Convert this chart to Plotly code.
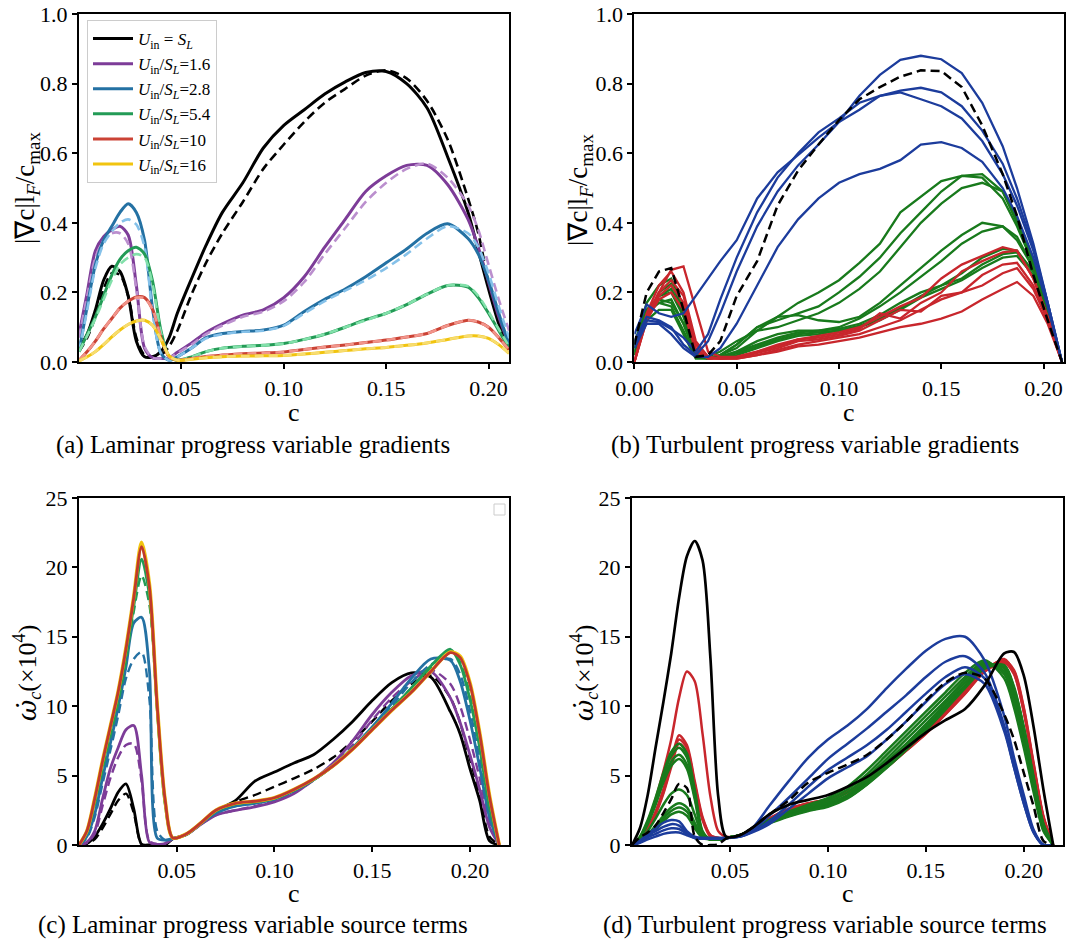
import plotly.graph_objects as go

FONT = "Liberation Serif"

# ---------------- (a) laminar progress-variable gradients ----------------
C_LAM = [0, 0.004, 0.008, 0.012, 0.016, 0.020, 0.024, 0.028, 0.032, 0.036, 0.040,
         0.044, 0.048, 0.055, 0.062, 0.070, 0.080, 0.090, 0.100, 0.110, 0.120,
         0.130, 0.140, 0.150, 0.160, 0.170, 0.180, 0.190, 0.195, 0.200, 0.205, 0.210]

GRAD_SL = [0.04, 0.08, 0.15, 0.235, 0.275, 0.26, 0.19, 0.06, 0.015, 0.015, 0.03,
           0.07, 0.14, 0.24, 0.335, 0.43, 0.515, 0.615, 0.68, 0.725, 0.77,
           0.805, 0.832, 0.835, 0.80, 0.73, 0.59, 0.43, 0.32, 0.21, 0.11, 0.035]
GRAD_SL_REF = [0.03, 0.07, 0.13, 0.21, 0.255, 0.25, 0.19, 0.07, 0.02, 0.015, 0.02,
               0.045, 0.09, 0.195, 0.285, 0.37, 0.46, 0.555, 0.625, 0.69, 0.745,
               0.785, 0.823, 0.838, 0.815, 0.75, 0.64, 0.47, 0.37, 0.23, 0.12, 0.05]
GRAD_16 = [0.08, 0.2, 0.32, 0.36, 0.38, 0.39, 0.365, 0.22, 0.04, 0.012, 0.01,
           0.012, 0.028, 0.055, 0.085, 0.11, 0.135, 0.15, 0.185, 0.245, 0.33,
           0.41, 0.49, 0.535, 0.565, 0.565, 0.51, 0.41, 0.33, 0.23, 0.13, 0.05]
GRAD_16_REF = [0.07, 0.19, 0.3, 0.35, 0.37, 0.37, 0.34, 0.21, 0.045, 0.012, 0.01,
               0.012, 0.026, 0.05, 0.08, 0.105, 0.13, 0.145, 0.175, 0.23, 0.31,
               0.385, 0.46, 0.515, 0.555, 0.57, 0.53, 0.45, 0.38, 0.28, 0.18, 0.09]
GRAD_28 = [0.03, 0.16, 0.28, 0.35, 0.39, 0.43, 0.455, 0.43, 0.35, 0.15, 0.025,
           0.005, 0.015, 0.04, 0.07, 0.082, 0.088, 0.092, 0.106, 0.145, 0.18,
           0.21, 0.245, 0.285, 0.325, 0.37, 0.397, 0.355, 0.31, 0.236, 0.14, 0.05]
GRAD_28_REF = [0.03, 0.15, 0.27, 0.34, 0.375, 0.4, 0.41, 0.395, 0.33, 0.14, 0.025,
               0.005, 0.015, 0.04, 0.068, 0.08, 0.087, 0.09, 0.104, 0.14, 0.175,
               0.205, 0.235, 0.27, 0.31, 0.355, 0.39, 0.37, 0.33, 0.255, 0.16, 0.07]
GRAD_54 = [0.03, 0.08, 0.13, 0.19, 0.25, 0.295, 0.32, 0.33, 0.31, 0.23, 0.09,
           0.015, 0.005, 0.015, 0.03, 0.04, 0.045, 0.048, 0.053, 0.065, 0.08,
           0.1, 0.122, 0.14, 0.165, 0.195, 0.22, 0.215, 0.185, 0.14, 0.09, 0.04]
GRAD_54_REF = [0.03, 0.075, 0.125, 0.18, 0.235, 0.28, 0.3, 0.31, 0.3, 0.22, 0.085,
               0.015, 0.005, 0.015, 0.03, 0.04, 0.045, 0.048, 0.053, 0.065, 0.08,
               0.1, 0.12, 0.14, 0.165, 0.195, 0.22, 0.218, 0.19, 0.145, 0.095, 0.045]
GRAD_10 = [0.005, 0.03, 0.06, 0.095, 0.125, 0.155, 0.175, 0.187, 0.185, 0.15, 0.07,
           0.015, 0.005, 0.01, 0.016, 0.02, 0.024, 0.026, 0.029, 0.036, 0.043,
           0.049, 0.056, 0.063, 0.072, 0.082, 0.105, 0.12, 0.115, 0.1, 0.07, 0.035]
GRAD_10_REF = [0.005, 0.03, 0.06, 0.095, 0.125, 0.155, 0.175, 0.185, 0.183, 0.15, 0.07,
               0.015, 0.005, 0.01, 0.016, 0.02, 0.024, 0.026, 0.029, 0.036, 0.043,
               0.049, 0.056, 0.063, 0.072, 0.082, 0.105, 0.12, 0.115, 0.1, 0.07, 0.035]
GRAD_16X = [0.003, 0.015, 0.03, 0.05, 0.072, 0.092, 0.108, 0.118, 0.12, 0.105, 0.065,
            0.018, 0.005, 0.008, 0.012, 0.015, 0.017, 0.018, 0.019, 0.023, 0.028,
            0.033, 0.038, 0.042, 0.048, 0.055, 0.065, 0.075, 0.075, 0.068, 0.05, 0.025]

LEGEND_LABELS = [
    "<i>U</i><sub>in</sub> = <i>S</i><sub><i>L</i></sub>",
    "<i>U</i><sub>in</sub>/<i>S</i><sub><i>L</i></sub>=1.6",
    "<i>U</i><sub>in</sub>/<i>S</i><sub><i>L</i></sub>=2.8",
    "<i>U</i><sub>in</sub>/<i>S</i><sub><i>L</i></sub>=5.4",
    "<i>U</i><sub>in</sub>/<i>S</i><sub><i>L</i></sub>=10",
    "<i>U</i><sub>in</sub>/<i>S</i><sub><i>L</i></sub>=16",
]

# ---------------- (b) turbulent progress-variable gradients ----------------
C_TURB = [0, 0.006, 0.012, 0.018, 0.024, 0.030, 0.036, 0.042, 0.050, 0.060, 0.070,
          0.080, 0.090, 0.100, 0.110, 0.120, 0.130, 0.140, 0.150, 0.160, 0.170,
          0.180, 0.187, 0.195, 0.202, 0.209]

TGRAD_REF = [0.05, 0.2, 0.26, 0.27, 0.15, 0.015, 0.02, 0.06, 0.19, 0.29, 0.45,
             0.55, 0.625, 0.695, 0.755, 0.79, 0.82, 0.838, 0.836, 0.79, 0.68,
             0.54, 0.42, 0.25, 0.12, 0.0]
TGRAD_BLUE_1 = [0.06, 0.13, 0.12, 0.10, 0.05, 0.02, 0.06, 0.14, 0.26, 0.39, 0.49,
                0.565, 0.625, 0.69, 0.765, 0.825, 0.868, 0.88, 0.87, 0.83, 0.745,
                0.62, 0.5, 0.34, 0.17, 0.0]
TGRAD_BLUE_2 = [0.05, 0.12, 0.115, 0.095, 0.07, 0.03, 0.08, 0.18, 0.30, 0.43, 0.53,
                0.60, 0.66, 0.70, 0.745, 0.765, 0.78, 0.788, 0.775, 0.735, 0.665,
                0.57, 0.47, 0.33, 0.17, 0.0]
TGRAD_BLUE_3 = [0.08, 0.165, 0.14, 0.13, 0.14, 0.19, 0.24, 0.29, 0.35, 0.47, 0.545,
                0.595, 0.645, 0.69, 0.725, 0.765, 0.775, 0.755, 0.735, 0.70, 0.635,
                0.54, 0.45, 0.32, 0.17, 0.0]
TGRAD_BLUE_4 = [0.04, 0.11, 0.11, 0.08, 0.04, 0.015, 0.015, 0.04, 0.11, 0.22, 0.33,
                0.41, 0.47, 0.515, 0.54, 0.555, 0.58, 0.625, 0.632, 0.615, 0.575,
                0.50, 0.42, 0.30, 0.16, 0.0]
TGRAD_GREEN_1 = [0.05, 0.17, 0.22, 0.24, 0.16, 0.03, 0.01, 0.02, 0.04, 0.09, 0.13,
                 0.17, 0.20, 0.235, 0.285, 0.34, 0.43, 0.475, 0.52, 0.535, 0.53,
                 0.47, 0.39, 0.28, 0.15, 0.0]
TGRAD_GREEN_2 = [0.04, 0.15, 0.19, 0.20, 0.13, 0.02, 0.01, 0.02, 0.05, 0.10, 0.12,
                 0.14, 0.16, 0.20, 0.245, 0.30, 0.37, 0.43, 0.49, 0.535, 0.54,
                 0.49, 0.40, 0.28, 0.15, 0.0]
TGRAD_GREEN_3 = [0.04, 0.15, 0.17, 0.18, 0.11, 0.02, 0.015, 0.03, 0.06, 0.09, 0.10,
                 0.12, 0.14, 0.17, 0.21, 0.26, 0.33, 0.40, 0.455, 0.50, 0.515,
                 0.49, 0.41, 0.29, 0.15, 0.0]
TGRAD_GREEN_4 = [0.03, 0.14, 0.17, 0.16, 0.09, 0.015, 0.01, 0.02, 0.05, 0.10, 0.13,
                 0.135, 0.12, 0.115, 0.13, 0.17, 0.22, 0.27, 0.32, 0.365, 0.40,
                 0.39, 0.35, 0.27, 0.15, 0.0]
TGRAD_GREEN_5 = [0.03, 0.12, 0.15, 0.15, 0.08, 0.01, 0.01, 0.015, 0.03, 0.06, 0.08,
                 0.09, 0.09, 0.10, 0.125, 0.16, 0.20, 0.245, 0.29, 0.34, 0.375,
                 0.39, 0.36, 0.27, 0.15, 0.0]
TGRAD_GREEN_6 = [0.02, 0.13, 0.19, 0.21, 0.14, 0.03, 0.01, 0.015, 0.03, 0.05, 0.07,
                 0.085, 0.09, 0.095, 0.11, 0.135, 0.17, 0.20, 0.22, 0.255, 0.30,
                 0.325, 0.32, 0.26, 0.14, 0.0]
TGRAD_GREEN_7 = [0.02, 0.12, 0.20, 0.225, 0.15, 0.03, 0.01, 0.015, 0.025, 0.045, 0.065,
                 0.08, 0.085, 0.09, 0.105, 0.125, 0.155, 0.19, 0.22, 0.24, 0.28,
                 0.31, 0.315, 0.26, 0.14, 0.0]
TGRAD_GREEN_8 = [0.02, 0.14, 0.18, 0.17, 0.11, 0.02, 0.01, 0.015, 0.02, 0.04, 0.06,
                 0.075, 0.08, 0.09, 0.10, 0.12, 0.15, 0.185, 0.21, 0.235, 0.27,
                 0.30, 0.305, 0.25, 0.14, 0.0]
TGRAD_RED_1 = [0.0, 0.13, 0.20, 0.265, 0.275, 0.15, 0.03, 0.015, 0.015, 0.03, 0.045,
               0.065, 0.075, 0.085, 0.10, 0.13, 0.16, 0.185, 0.24, 0.28, 0.305,
               0.33, 0.32, 0.24, 0.13, 0.0]
TGRAD_RED_2 = [0.0, 0.14, 0.22, 0.26, 0.20, 0.06, 0.015, 0.01, 0.015, 0.03, 0.05,
               0.065, 0.07, 0.08, 0.095, 0.14, 0.125, 0.17, 0.20, 0.26, 0.29,
               0.315, 0.32, 0.24, 0.13, 0.0]
TGRAD_RED_3 = [0.0, 0.13, 0.20, 0.235, 0.19, 0.05, 0.015, 0.01, 0.012, 0.025, 0.04,
               0.06, 0.065, 0.075, 0.09, 0.12, 0.15, 0.145, 0.19, 0.20, 0.25,
               0.28, 0.285, 0.22, 0.12, 0.0]
TGRAD_RED_4 = [0.0, 0.12, 0.19, 0.22, 0.17, 0.04, 0.01, 0.01, 0.01, 0.02, 0.035,
               0.05, 0.06, 0.07, 0.08, 0.10, 0.12, 0.15, 0.18, 0.20, 0.22,
               0.255, 0.27, 0.21, 0.12, 0.0]
TGRAD_RED_5 = [0.0, 0.12, 0.18, 0.20, 0.15, 0.03, 0.01, 0.01, 0.01, 0.02, 0.03,
               0.045, 0.05, 0.06, 0.07, 0.085, 0.10, 0.11, 0.125, 0.145, 0.18,
               0.21, 0.23, 0.19, 0.11, 0.0]

# ---------------- (c) laminar source terms (x 1e4) ----------------
C_SRC = [0, 0.004, 0.008, 0.012, 0.016, 0.020, 0.024, 0.028, 0.032, 0.036, 0.040,
         0.044, 0.048, 0.055, 0.062, 0.070, 0.080, 0.090, 0.100, 0.110, 0.120,
         0.130, 0.140, 0.150, 0.160, 0.170, 0.180, 0.190, 0.195, 0.200, 0.205,
         0.210, 0.215]

SRC_SL = [0, 0.1, 0.6, 1.5, 2.6, 3.8, 4.4, 2.6, 0.05, 0, 0,
          0, 0.45, 0.75, 1.5, 2.45, 3.2, 4.6, 5.25, 5.9, 6.5,
          7.6, 8.9, 10.4, 11.7, 12.4, 12.1, 9.6, 8.0, 5.5, 3.2,
          0.3, 0]
SRC_SL_REF = [0, 0.1, 0.4, 1.2, 2.2, 3.2, 3.7, 2.3, 0.05, 0, 0,
              0, 0.45, 0.75, 1.5, 2.45, 3.1, 3.6, 4.2, 4.8, 5.45,
              6.3, 7.5, 8.9, 10.4, 11.6, 12.2, 10.6, 8.8, 6.2, 3.6,
              0.6, 0]
SRC_16 = [0, 0.2, 1.0, 3.3, 5.5, 7.0, 8.3, 8.6, 5.0, 0.2, 0.05,
          0.1, 0.45, 0.75, 1.45, 2.15, 2.5, 2.75, 3.1, 3.7, 4.7,
          5.9, 7.5, 9.4, 11.0, 12.2, 12.5, 10.6, 8.8, 6.5, 4.0,
          1.3, 0]
SRC_16_REF = [0, 0.15, 0.8, 2.8, 4.8, 6.3, 7.2, 7.3, 4.6, 0.3, 0.05,
              0.1, 0.45, 0.75, 1.45, 2.15, 2.5, 2.8, 3.15, 3.75, 4.65,
              5.75, 7.2, 9.0, 10.6, 11.8, 12.6, 11.6, 10.0, 7.6, 4.8,
              1.7, 0]
SRC_28 = [0, 0.6, 2.2, 4.8, 7.3, 9.9, 12.8, 16.0, 16.4, 12.6, 0.5,
          0.35, 0.45, 0.75, 1.5, 2.3, 2.8, 3.0, 3.3, 3.9, 4.7,
          5.7, 7.0, 8.5, 10.2, 12.0, 13.4, 13.3, 11.8, 9.0, 5.6,
          2.0, 0]
SRC_28_REF = [0, 0.5, 2.0, 4.4, 6.8, 9.3, 12.0, 13.4, 13.9, 10.5, 1.0,
              0.35, 0.45, 0.75, 1.5, 2.3, 2.8, 3.0, 3.3, 3.9, 4.7,
              5.7, 7.0, 8.4, 10.0, 11.7, 13.0, 13.4, 12.3, 9.7, 6.2,
              2.3, 0]
SRC_54 = [0, 0.9, 3.1, 5.7, 8.2, 10.7, 13.7, 17.2, 20.6, 18.0, 9.8,
          3.0, 0.5, 0.8, 1.55, 2.45, 2.95, 3.1, 3.35, 3.95, 4.7,
          5.7, 6.95, 8.35, 9.8, 11.3, 12.9, 14.1, 13.0, 10.5, 7.0,
          2.7, 0]
SRC_54_REF = [0, 0.85, 2.9, 5.4, 7.8, 10.2, 13.2, 16.8, 19.4, 17.3, 9.6,
              3.0, 0.5, 0.8, 1.55, 2.45, 2.95, 3.1, 3.35, 3.95, 4.7,
              5.7, 6.95, 8.35, 9.8, 11.3, 12.7, 14.0, 13.2, 10.9, 7.4,
              3.0, 0]
SRC_10 = [0, 1.0, 3.3, 6.0, 8.5, 11.0, 14.1, 17.8, 21.5, 18.6, 10.0,
          3.3, 0.5, 0.8, 1.55, 2.5, 3.0, 3.15, 3.4, 4.0, 4.75,
          5.7, 6.9, 8.3, 9.7, 11.0, 12.5, 13.85, 13.5, 11.6, 8.0,
          3.5, 0]
SRC_16X = [0, 1.0, 3.35, 6.05, 8.55, 11.05, 14.2, 17.9, 21.8, 18.8, 10.1,
           3.3, 0.5, 0.8, 1.55, 2.5, 3.0, 3.15, 3.4, 4.0, 4.75,
           5.7, 6.9, 8.3, 9.7, 11.0, 12.5, 13.9, 13.6, 11.7, 8.1,
           3.6, 0]

# ---------------- (d) turbulent source terms (x 1e4) ----------------
TSRC_LAM_HI = [0, 1.2, 3.6, 7.0, 10.3, 13.8, 17.8, 20.8, 21.9, 20.5, 13.5,
               3.5, 0.6, 0.7, 1.3, 2.2, 2.9, 3.25, 3.6, 4.2, 4.9,
               5.9, 7.0, 8.1, 9.0, 9.8, 11.5, 13.8, 13.9, 12.2, 8.5,
               4.0, 0]
TSRC_LAM_LO = [0, 0.55, 0.9, 1.4, 2.3, 3.3, 4.4, 4.1, 0.6, 0, 0,
               0.05, 0.45, 0.7, 1.3, 2.2, 3.2, 4.5, 5.2, 5.8, 6.5,
               7.6, 8.9, 10.4, 11.7, 12.4, 12.0, 9.4, 7.6, 5.2, 2.8,
               0.3, 0]
TSRC_BLUE_1 = [0, 0.3, 0.8, 1.2, 1.6, 1.8, 1.7, 1.0, 0.6, 0.5, 0.5,
               0.5, 0.5, 0.65, 1.3, 2.8, 4.6, 6.3, 7.6, 8.6, 9.8,
               11.3, 12.7, 14.0, 14.85, 15.0, 13.3, 9.3, 6.3, 3.6, 1.1,
               0, 0]
TSRC_BLUE_2 = [0, 0.25, 0.7, 1.0, 1.3, 1.5, 1.4, 0.9, 0.55, 0.5, 0.5,
               0.5, 0.5, 0.6, 1.1, 2.1, 3.4, 4.8, 6.2, 7.3, 8.4,
               9.6, 10.8, 12.1, 13.2, 13.6, 12.4, 8.6, 5.8, 3.3, 1.0,
               0, 0]
TSRC_BLUE_3 = [0, 0.2, 0.55, 0.8, 1.05, 1.2, 1.15, 0.8, 0.5, 0.45, 0.45,
               0.45, 0.5, 0.6, 1.0, 1.7, 2.9, 4.2, 5.4, 6.3, 7.2,
               8.3, 9.6, 10.9, 12.1, 12.8, 12.0, 8.4, 5.6, 3.0, 0.9,
               0, 0]
TSRC_BLUE_4 = [0, 0.15, 0.4, 0.6, 0.8, 0.9, 0.9, 0.7, 0.5, 0.45, 0.45,
               0.45, 0.5, 0.6, 0.95, 1.5, 2.6, 3.7, 4.8, 5.6, 6.4,
               7.6, 8.9, 10.3, 11.6, 12.3, 11.6, 8.2, 5.6, 3.0, 0.9,
               0, 0]
TSRC_GREEN_1 = [0, 0.6, 1.8, 3.4, 5.2, 6.7, 7.3, 6.6, 4.0, 1.0, 0.4,
                0.4, 0.5, 0.7, 1.2, 1.8, 2.4, 2.9, 3.4, 4.2, 5.4,
                6.8, 8.2, 9.6, 11.0, 12.4, 13.3, 12.0, 9.9, 7.0, 3.8,
                1.0, 0]
TSRC_GREEN_2 = [0, 0.55, 1.7, 3.2, 5.0, 6.4, 7.0, 6.3, 3.8, 0.9, 0.4,
                0.4, 0.5, 0.7, 1.2, 1.75, 2.3, 2.8, 3.25, 4.0, 5.1,
                6.5, 7.9, 9.3, 10.7, 12.1, 13.2, 12.3, 10.3, 7.4, 4.1,
                1.1, 0]
TSRC_GREEN_3 = [0, 0.5, 1.6, 3.0, 4.7, 6.0, 6.5, 5.8, 3.5, 0.9, 0.4,
                0.4, 0.5, 0.7, 1.15, 1.7, 2.25, 2.7, 3.1, 3.8, 4.9,
                6.2, 7.6, 9.0, 10.4, 11.9, 13.1, 12.5, 10.6, 7.7, 4.3,
                1.2, 0]
TSRC_GREEN_4 = [0, 0.5, 1.5, 2.9, 4.5, 5.7, 6.2, 5.5, 3.3, 0.8, 0.4,
                0.4, 0.5, 0.7, 1.1, 1.65, 2.2, 2.6, 3.0, 3.6, 4.7,
                6.0, 7.3, 8.7, 10.2, 11.7, 13.0, 12.7, 10.9, 8.0, 4.5,
                1.3, 0]
TSRC_GREEN_5 = [0, 0.3, 1.0, 1.9, 2.9, 3.7, 4.0, 3.6, 2.2, 0.7, 0.4,
                0.4, 0.5, 0.7, 1.1, 1.6, 2.15, 2.55, 2.9, 3.5, 4.5,
                5.8, 7.1, 8.5, 10.0, 11.5, 12.9, 12.8, 11.1, 8.2, 4.7,
                1.4, 0]
TSRC_GREEN_6 = [0, 0.25, 0.75, 1.4, 2.1, 2.7, 3.0, 2.7, 1.6, 0.6, 0.4,
                0.4, 0.5, 0.7, 1.1, 1.6, 2.1, 2.5, 2.85, 3.45, 4.4,
                5.7, 7.0, 8.4, 9.9, 11.4, 12.8, 12.9, 11.2, 8.4, 4.8,
                1.5, 0]
TSRC_GREEN_7 = [0, 0.2, 0.65, 1.25, 1.9, 2.45, 2.7, 2.4, 1.4, 0.55, 0.4,
                0.4, 0.5, 0.7, 1.1, 1.6, 2.1, 2.5, 2.8, 3.4, 4.4,
                5.6, 6.9, 8.3, 9.8, 11.4, 12.8, 12.9, 11.3, 8.4, 4.8,
                1.5, 0]
TSRC_GREEN_8 = [0, 0.2, 0.6, 1.1, 1.7, 2.2, 2.4, 2.1, 1.2, 0.5, 0.4,
                0.4, 0.5, 0.7, 1.1, 1.55, 2.05, 2.45, 2.75, 3.35, 4.35,
                5.55, 6.85, 8.25, 9.75, 11.3, 12.7, 12.95, 11.4, 8.5, 4.9,
                1.5, 0]
TSRC_RED_1 = [0, 0.5, 1.6, 3.3, 5.3, 7.6, 10.6, 12.5, 11.8, 8.0, 3.5,
              1.0, 0.6, 0.7, 1.2, 1.9, 2.6, 3.0, 3.3, 3.8, 4.6,
              5.6, 6.8, 8.0, 9.4, 10.9, 12.5, 13.4, 12.4, 9.6, 5.6,
              1.9, 0]
TSRC_RED_2 = [0, 0.4, 1.2, 2.4, 4.0, 6.0, 7.9, 7.2, 4.6, 2.0, 0.7,
              0.5, 0.5, 0.7, 1.2, 1.9, 2.6, 3.0, 3.3, 3.85, 4.7,
              5.7, 6.9, 8.2, 9.6, 11.1, 12.6, 13.3, 12.6, 9.9, 5.9,
              2.1, 0]
TSRC_RED_3 = [0, 0.4, 1.15, 2.3, 3.8, 5.8, 7.6, 7.0, 4.4, 1.9, 0.7,
              0.5, 0.5, 0.7, 1.2, 1.85, 2.55, 2.95, 3.25, 3.8, 4.65,
              5.65, 6.85, 8.1, 9.5, 11.0, 12.6, 13.2, 12.5, 9.8, 5.8,
              2.0, 0]
TSRC_RED_4 = [0, 0.35, 1.1, 2.2, 3.7, 5.6, 7.3, 6.7, 4.2, 1.8, 0.6,
              0.5, 0.5, 0.7, 1.2, 1.85, 2.5, 2.9, 3.2, 3.75, 4.6,
              5.6, 6.8, 8.05, 9.45, 10.9, 12.5, 13.1, 12.3, 9.6, 5.7,
              2.0, 0]

X_TICKS = [0.05, 0.10, 0.15, 0.20]
X_TICKS_B = [0.0, 0.05, 0.10, 0.15, 0.20]
Y_TICKS_GRAD = [0.0, 0.2, 0.4, 0.6, 0.8, 1.0]
Y_TICKS_SRC = [0, 5, 10, 15, 20, 25]

# colours
BLACK = "#000000"
PURPLE, PURPLE_LT = "#7d3c98", "#bb8fce"
BLUE, BLUE_LT = "#2471a3", "#85c1e9"
GREEN, GREEN_LT = "#239b56", "#82e0aa"
RED, RED_LT = "#cb4335", "#f1948a"
YELLOW, YELLOW_LT = "#f1c40f", "#f7dc6f"
RED_C = "#c0392b"
T_BLUE, T_GREEN, T_RED = "#1c3c9c", "#187a1c", "#c8262c"
DASH = "9px,5px"

fig = go.Figure()


def line(x, y, color, ax, width=2.6, dash="solid", shape="spline", name=None, legend=False):
    fig.add_trace(go.Scatter(
        x=x, y=y, mode="lines", name=name, showlegend=legend,
        xaxis="x" + ax, yaxis="y" + ax, hoverinfo="skip",
        line=dict(color=color, width=width, dash=dash, shape=shape, smoothing=0.8),
    ))


# panel (a)
pairs_a = [
    (GRAD_SL, GRAD_SL_REF, BLACK, BLACK),
    (GRAD_16, GRAD_16_REF, PURPLE, PURPLE_LT),
    (GRAD_28, GRAD_28_REF, BLUE, BLUE_LT),
    (GRAD_54, GRAD_54_REF, GREEN, GREEN_LT),
    (GRAD_10, GRAD_10_REF, RED, RED_LT),
    (GRAD_16X, GRAD_16X, YELLOW, YELLOW_LT),
]
for (solid, dashed, c_solid, c_dash), label in zip(pairs_a, LEGEND_LABELS):
    line(C_LAM, solid, c_solid, "", width=3, name=label, legend=True)
    line(C_LAM, dashed, c_dash, "", width=2.6, dash=DASH)

# panel (b)
for ys in [TGRAD_GREEN_1, TGRAD_GREEN_2, TGRAD_GREEN_3, TGRAD_GREEN_4,
           TGRAD_GREEN_5, TGRAD_GREEN_6, TGRAD_GREEN_7, TGRAD_GREEN_8]:
    line(C_TURB, ys, T_GREEN, "2", width=2.3, shape="linear")
for ys in [TGRAD_RED_1, TGRAD_RED_2, TGRAD_RED_3, TGRAD_RED_4, TGRAD_RED_5]:
    line(C_TURB, ys, T_RED, "2", width=2.3, shape="linear")
for ys in [TGRAD_BLUE_1, TGRAD_BLUE_2, TGRAD_BLUE_3, TGRAD_BLUE_4]:
    line(C_TURB, ys, T_BLUE, "2", width=2.3, shape="linear")
line(C_TURB, TGRAD_REF, BLACK, "2", width=2.5, dash=DASH, shape="linear")

# panel (c)
for solid, dashed, col in [(SRC_SL, SRC_SL_REF, BLACK), (SRC_16, SRC_16_REF, PURPLE),
                           (SRC_28, SRC_28_REF, BLUE), (SRC_54, SRC_54_REF, GREEN)]:
    line(C_SRC, solid, col, "3", width=2.8)
    line(C_SRC, dashed, col, "3", width=2.4, dash=DASH)
line(C_SRC, SRC_16X, YELLOW, "3", width=3.6)
line(C_SRC, SRC_10, RED_C, "3", width=2.8)

# panel (d)
for ys in [TSRC_RED_1, TSRC_RED_2, TSRC_RED_3, TSRC_RED_4]:
    line(C_SRC, ys, T_RED, "4", width=2.5)
for ys in [TSRC_GREEN_1, TSRC_GREEN_2, TSRC_GREEN_3, TSRC_GREEN_4,
           TSRC_GREEN_5, TSRC_GREEN_6, TSRC_GREEN_7, TSRC_GREEN_8]:
    line(C_SRC, ys, T_GREEN, "4", width=2.5)
for ys in [TSRC_BLUE_1, TSRC_BLUE_2, TSRC_BLUE_3, TSRC_BLUE_4]:
    line(C_SRC, ys, T_BLUE, "4", width=2.5)
line(C_SRC, TSRC_LAM_HI, BLACK, "4", width=2.7)
line(C_SRC, TSRC_LAM_LO, BLACK, "4", width=2.5, dash=DASH)


def axis(domain, anchor, rng, tickvals, ticktext):
    return dict(
        domain=domain, anchor=anchor, range=rng, tickvals=tickvals, ticktext=ticktext,
        automargin=False,
        showline=True, linecolor="black", linewidth=2.2, mirror=True,
        ticks="outside", ticklen=5, tickwidth=1.6, tickcolor="black",
        showgrid=False, zeroline=False,
        tickfont=dict(family=FONT, size=22, color="black"),
    )


fmt1 = lambda v: f"{v:.1f}"
fmt2 = lambda v: f"{v:.2f}"

XA = [0.0740, 0.4766]
XB = [0.5940, 0.9963]
XD = [0.5918, 0.9953]
YTOP = [0.6173, 0.9852]
YBOT = [0.1068, 0.4736]

fig.update_layout(
    width=1068, height=946, margin=dict(l=0, r=0, t=0, b=0),
    paper_bgcolor="white", plot_bgcolor="white",
    font=dict(family=FONT, color="black"),
    xaxis=axis(XA, "y", [0, 0.21], X_TICKS, [fmt2(v) for v in X_TICKS]),
    yaxis=axis(YTOP, "x", [0, 1], Y_TICKS_GRAD, [fmt1(v) for v in Y_TICKS_GRAD]),
    xaxis2=axis(XB, "y2", [0, 0.21], X_TICKS_B, [fmt2(v) for v in X_TICKS_B]),
    yaxis2=axis(YTOP, "x2", [0, 1], Y_TICKS_GRAD, [fmt1(v) for v in Y_TICKS_GRAD]),
    xaxis3=axis(XA, "y3", [0, 0.22], X_TICKS, [fmt2(v) for v in X_TICKS]),
    yaxis3=axis(YBOT, "x3", [0, 25], Y_TICKS_SRC, [str(v) for v in Y_TICKS_SRC]),
    xaxis4=axis(XD, "y4", [0, 0.22], X_TICKS, [fmt2(v) for v in X_TICKS]),
    yaxis4=axis(YBOT, "x4", [0, 25], Y_TICKS_SRC, [str(v) for v in Y_TICKS_SRC]),
    legend=dict(
        x=87 / 1068, y=1 - 20 / 946, xanchor="left", yanchor="top",
        bgcolor="rgba(255,255,255,0.9)", bordercolor="#cccccc", borderwidth=1,
        font=dict(family=FONT, size=17, color="black"), itemwidth=40,
        tracegroupgap=0,
    ),
)

# empty legend frame of panel (c)
fig.add_shape(type="rect", xref="paper", yref="paper",
              x0=494 / 1068, x1=505 / 1068, y0=1 - 515 / 946, y1=1 - 504 / 946,
              line=dict(color="#cccccc", width=1), fillcolor="white")

GRAD_TITLE = "|∇c|l<sub><i>F</i></sub>/c<sub>max</sub>"
SRC_TITLE = ("<span style='font-family:DejaVu Serif'><i>ω̇</i></span>"
             "<sub><i>c</i></sub>(×10<sup>4</sup>)")
annotations = [
    # axis titles
    dict(x=27 / 1068, y=1 - 188 / 946, text=GRAD_TITLE, textangle=-90, size=27),
    dict(x=580 / 1068, y=1 - 190 / 946, text=GRAD_TITLE, textangle=-90, size=27),
    dict(x=27 / 1068, y=1 - 673 / 946, text=SRC_TITLE, textangle=-90, size=26),
    dict(x=584 / 1068, y=1 - 673 / 946, text=SRC_TITLE, textangle=-90, size=26),
    dict(x=294 / 1068, y=1 - 412 / 946, text="c", textangle=0, size=26),
    dict(x=849 / 1068, y=1 - 412 / 946, text="c", textangle=0, size=26),
    dict(x=294 / 1068, y=1 - 893 / 946, text="c", textangle=0, size=26),
    dict(x=848 / 1068, y=1 - 893 / 946, text="c", textangle=0, size=26),
    # sub-figure captions
    dict(x=253 / 1068, y=1 - 445 / 946, text="(a) Laminar progress variable gradients", textangle=0, size=25),
    dict(x=815 / 1068, y=1 - 445 / 946, text="(b) Turbulent progress variable gradients", textangle=0, size=25),
    dict(x=253 / 1068, y=1 - 925 / 946, text="(c) Laminar progress variable source terms", textangle=0, size=25),
    dict(x=825 / 1068, y=1 - 925 / 946, text="(d) Turbulent progress variable source terms", textangle=0, size=25),
]
for a in annotations:
    fig.add_annotation(
        x=a["x"], y=a["y"], xref="paper", yref="paper", text=a["text"],
        textangle=a["textangle"], showarrow=False, xanchor="center", yanchor="middle",
        font=dict(family=FONT, size=a["size"], color="black"),
    )

fig.write_html("out.html")
